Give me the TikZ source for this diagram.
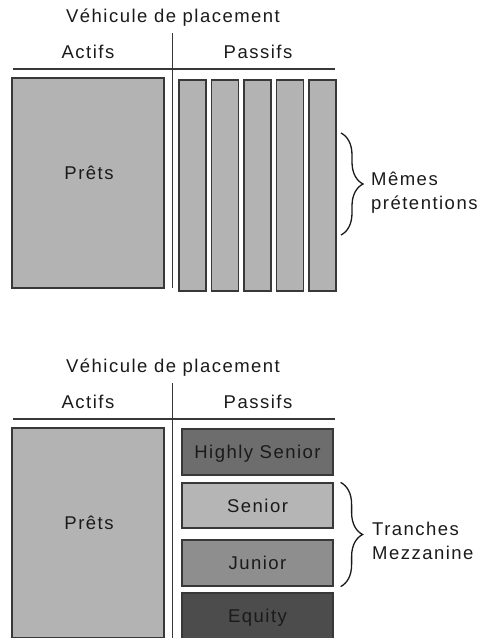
\documentclass[tikz,border=0pt]{standalone}
\usepackage{fontspec}
\setmainfont{Liberation Sans}[LetterSpace=8]
\usetikzlibrary{decorations.pathreplacing}

\definecolor{ink}{HTML}{1A1A1A}
\definecolor{rule}{HTML}{383838}
\definecolor{gLoan}{HTML}{B3B3B3}
\definecolor{gHigh}{HTML}{6D6D6D}
\definecolor{gSen}{HTML}{B5B5B5}
\definecolor{gJun}{HTML}{8E8E8E}
\definecolor{gEq}{HTML}{4C4C4C}

\begin{document}
\begin{tikzpicture}[
    x=1pt, y=-1pt,
    font=\fontsize{18.5}{24}\selectfont,
    hdr/.style={inner sep=0pt, text=ink, text height=13.3pt, text depth=0pt},
    sep/.style={draw=rule, line width=1.3pt},
    loanbox/.style={draw=rule, line width=1.2pt, fill=gLoan,
        minimum width=152pt, minimum height=210pt, inner sep=0pt},
    bar/.style={draw=rule, line width=1.2pt, fill=gLoan,
        minimum width=27pt, minimum height=211pt, inner sep=0pt},
    tranche/.style={draw=rule, line width=1.2pt, fill=#1, text=ink,
        minimum width=151pt, minimum height=46pt, inner sep=0pt,
        text height=13.3pt, text depth=0pt},
    brc/.style={draw=ink, line width=1.3pt, decorate,
        decoration={brace, amplitude=22pt}},
    note/.style={anchor=base west, align=left, inner sep=0pt, text=ink},
]
\useasboundingbox (0,0) rectangle (480,638);

% ---------------------------------------------------------------- same claims
\node (veh1) [hdr] at (173,16) {Véhicule de placement};
\node (act1) [hdr] at (88,52)  {Actifs};
\node (pas1) [hdr] at (258,52) {Passifs};

\draw [sep] (172.7,33) -- (172.7,288);
\draw [sep] (13,69) -- (335,69);

\node (loan1) [loanbox] at (88,183) {};
\node (loantxt1) [hdr] at (89,173) {Prêts};

\foreach \i in {0,...,4}
    \node (bar\i) [bar] at (192.5+32.5*\i,185.5) {};

\coordinate (b1top) at (341,133);
\coordinate (b1bot) at (341,235);
\draw [brc] (b1top) -- (b1bot);
% base of a two-line node sits on its last line
\node (same) [note] at (371,209) {Mêmes\\prétentions};

% ---------------------------------------------------------------- tranching
\node (veh2) [hdr] at (173,366) {Véhicule de placement};
\node (act2) [hdr] at (88,402)  {Actifs};
\node (pas2) [hdr] at (258,402) {Passifs};

\draw [sep] (172.7,383) -- (172.7,640);
\draw [sep] (13,419) -- (335,419);

\node (loan2) [loanbox] at (88,533) {};
\node (loantxt2) [hdr] at (89,523) {Prêts};

\node (hs)  [tranche=gHigh] at (257.5,452)   {Highly Senior};
\node (sen) [tranche=gSen, minimum height=45pt] at (257.5,505.5) {Senior};
\node (jun) [tranche=gJun]  at (257.5,563)   {Junior};
\node (eq)  [tranche=gEq]   at (257.5,616)   {Equity};

\draw [brc] ([xshift=7pt]sen.north east) -- ([xshift=7pt]jun.south east);
\node (mezz) [note] at (372,559) {Tranches\\Mezzanine};

\end{tikzpicture}
\end{document}
